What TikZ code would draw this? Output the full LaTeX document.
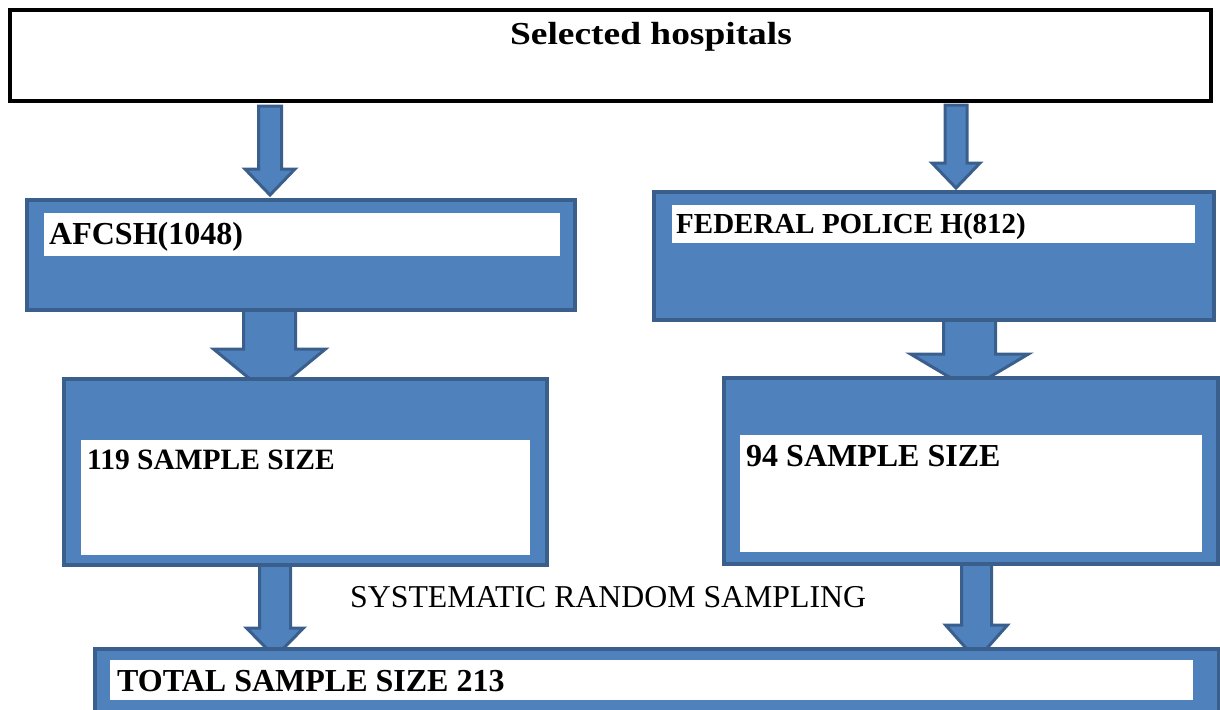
\documentclass[tikz,border=0pt]{standalone}
\usepackage{fontspec}
\setmainfont{Liberation Serif}
\newfontfamily\wideserif[FakeStretch=1.17]{Liberation Serif}
\usepackage{xcolor}
\usetikzlibrary{positioning,calc,fit,backgrounds}

\definecolor{boxfill}{HTML}{4F81BD}
\definecolor{boxedge}{HTML}{3A5F8C}

% block arrow: start, tip, shaft half width, head half width, head length
\newcommand{\fatarrow}[5]{%
	\draw[blockarrow] let \p1=(#1), \p2=(#2) in
	(\x1-#3pt,\y1) -- (\x1+#3pt,\y1) -- (\x1+#3pt,\y2+#5pt) -- (\x1+#4pt,\y2+#5pt)
	-- (\x1,\y2) -- (\x1-#4pt,\y2+#5pt) -- (\x1-#3pt,\y2+#5pt) -- cycle;
}

\begin{document}
\begin{tikzpicture}[x=1pt,y=-1pt, line join=miter,
	hospbox/.style={draw=boxedge, fill=boxfill, line width=4pt, inner sep=0pt},
	whitebar/.style={fill=white, draw=none, inner sep=0pt},
	lbl/.style={anchor=base west, inner sep=0pt, font=\bfseries\fontsize{#1}{#1}\selectfont},
	blockarrow/.style={draw=boxedge, fill=boxfill, line width=3pt}]
	\useasboundingbox (0,0) rectangle (1220,709);

	% ===== top box =====
	\node[draw=black, fill=white, line width=3.5pt, inner sep=0pt, fit={(10,10) (1211,101)}] (top) {};
	\node[anchor=base, inner sep=0pt, font=\wideserif\bfseries\fontsize{32}{32}\selectfont] (toptxt) at (651,45) {Selected hospitals};

	% ===== hospital boxes =====
	\node[hospbox, fit={(27,200) (575,310)}] (afcsh) {};
	\node[whitebar, fit={(44,213) (560,256)}] (afcshbar) {};
	\node[lbl=32] (afcshtxt) at (49,244) {AFCSH(1048)};

	\node[hospbox, fit={(654,192) (1214,320)}] (fed) {};
	\node[whitebar, fit={(672,205) (1195,243)}] (fedbar) {};
	\node[lbl=29] (fedtxt) at (676,233) {FEDERAL POLICE H(812)};

	% ===== sample size boxes =====
	\node[hospbox, fit={(64,379) (547,565)}] (s119) {};
	\node[whitebar, fit={(81,440) (530,555)}] (s119bar) {};
	\node[lbl=29.5] (s119txt) at (87,469) {119 SAMPLE SIZE};

	\node[hospbox, fit={(724,378) (1218,564)}] (s94) {};
	\node[whitebar, fit={(740,435) (1202,552)}] (s94bar) {};
	\node[lbl=32] (s94txt) at (746,466) {94 SAMPLE SIZE};

	\node[anchor=base west, inner sep=0pt, font=\fontsize{31.8}{32}\selectfont] (systxt) at (350,607) {SYSTEMATIC RANDOM SAMPLING};

	% ===== total =====
	\node[hospbox, fit={(95,649) (1219,730)}] (total) {};
	\node[whitebar, fit={(110,660) (1193,700)}] (totalbar) {};
	\node[lbl=32] (totaltxt) at (117,691) {TOTAL SAMPLE SIZE 213};

	% ===== arrows (behind the boxes) =====
	\coordinate (a1) at (270,106);  \coordinate (t1) at (270,195);
	\coordinate (a2) at (956,105);  \coordinate (t2) at (956,188);
	\coordinate (a3) at (269.5,310); \coordinate (t3) at (269.5,395);
	\coordinate (a4) at (969.5,320); \coordinate (t4) at (969.5,389);
	\coordinate (a5) at (275,565);  \coordinate (t5) at (275,657);
	\coordinate (a6) at (976.5,564); \coordinate (t6) at (976.5,660);
	\begin{scope}[on background layer]
		\fatarrow{a1}{t1}{11.5}{25}{26}
		\fatarrow{a2}{t2}{11}{24}{25}
		\fatarrow{a3}{t3}{26}{56}{46}
		\fatarrow{a4}{t4}{26}{59}{35}
		\fatarrow{a5}{t5}{15.5}{28.5}{29}
		\fatarrow{a6}{t6}{15}{31}{35}
	\end{scope}
\end{tikzpicture}
\end{document}
